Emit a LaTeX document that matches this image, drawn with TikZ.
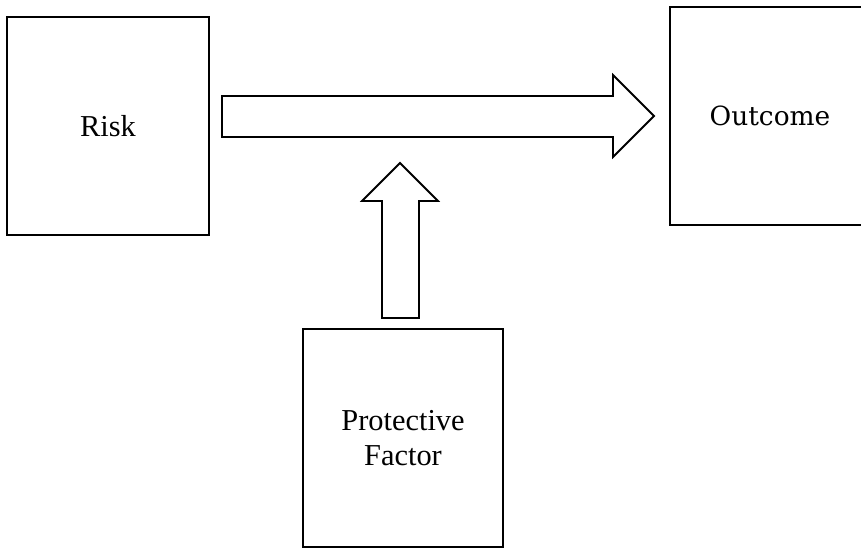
\documentclass[tikz,border=0pt]{standalone}
\usepackage{fontspec}
\setmainfont{Liberation Serif}
\newfontfamily\outfont{DejaVu Serif}
\begin{document}
\begin{tikzpicture}
[x=0.5pt,y=-0.5pt,
 factorbox/.style={draw,line width=0.9pt,minimum width=100pt,minimum height=109pt,inner sep=0pt,align=center,font=\fontsize{15.2}{17.5}\selectfont},
 blockarrow/.style={draw,line width=0.9pt,line join=miter}]
\useasboundingbox (0,0) rectangle (861,548);
\clip (0,0) rectangle (861,548);
\node [factorbox,minimum width=101pt] (risk) at (108,126) {Risk};
\node [factorbox,font=\outfont\fontsize{13.2}{16}\selectfont] (outcome) at (770,116) {Outcome};
\node [factorbox] (protect) at (403,438) {Protective\\Factor};
\draw [blockarrow] (222,96) -- (613,96) -- (613,75) -- (654,116) -- (613,157) -- (613,137) -- (222,137) -- cycle;
\draw [blockarrow] (382,318) -- (382,201) -- (362,201) -- (400,163) -- (438,201) -- (419,201) -- (419,318) -- cycle;
\end{tikzpicture}
\end{document}
